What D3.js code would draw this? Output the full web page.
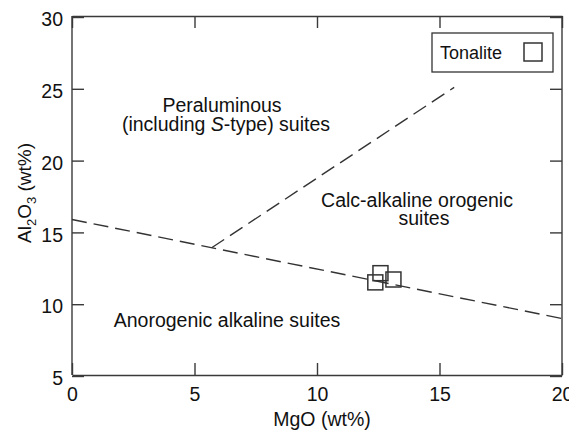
<!DOCTYPE html>
<html>
<head>
<meta charset="utf-8">
<script src="https://cdn.jsdelivr.net/npm/d3@7"></script>
<style>
  html, body { margin: 0; padding: 0; background: #fff; }
  svg text { font-family: "Liberation Sans", Arial, Helvetica, sans-serif; fill: #111; }
</style>
</head>
<body>
<svg id="chart" width="569" height="434"></svg>
<script>
// MgO vs Al2O3 discrimination diagram for granitoid suites
const xTicks = [0, 5, 10, 15, 20];
const yTicks = [5, 10, 15, 20, 25, 30];

// Field boundaries (dashed)
const lowerBoundaryX = [0, 20];
const lowerBoundaryY = [15.9, 9.0];
const upperBoundaryX = [5.7, 15.6];
const upperBoundaryY = [13.93, 25.1];

// Tonalite samples
const tonaliteMgO = [12.38, 12.59, 13.12];
const tonaliteAl2O3 = [11.52, 12.16, 11.72];

(function () {
  const svg = d3.select("#chart");
  const plotLeft = 72, plotRight = 562, plotTop = 16, plotBottom = 375;

  const x = d3.scaleLinear().domain([0, 20]).range([plotLeft, plotRight]);
  const y = d3.scaleLinear().domain([5, 30]).range([plotBottom + 1, plotTop + 1]);

  const axisColor = "#3a3a3a";
  const tickLen = 12;

  // Axes: ticks point inward on all four sides
  const gB = svg.append("g").attr("transform", `translate(0,${plotBottom})`)
    .call(d3.axisBottom(x).tickValues(xTicks).tickSizeInner(-tickLen).tickSizeOuter(0).tickPadding(9).tickFormat(d3.format("d")));
  const gT = svg.append("g").attr("transform", `translate(0,${plotTop})`)
    .call(d3.axisTop(x).tickValues(xTicks).tickSizeInner(-tickLen).tickSizeOuter(0).tickFormat(""));
  const gL = svg.append("g").attr("transform", `translate(${plotLeft},0)`)
    .call(d3.axisLeft(y).tickValues(yTicks).tickSizeInner(-tickLen).tickSizeOuter(0).tickPadding(9).tickFormat(d3.format("d")));
  const gR = svg.append("g").attr("transform", `translate(${plotRight},0)`)
    .call(d3.axisRight(y).tickValues(yTicks).tickSizeInner(-tickLen).tickSizeOuter(0).tickFormat(""));

  // Frame edges span the full plot box
  gL.select("path.domain").attr("d", `M0,${plotTop}V${plotBottom}`);
  gR.select("path.domain").attr("d", `M0,${plotTop}V${plotBottom}`);

  [gB, gT, gL, gR].forEach(g => {
    g.selectAll("path.domain").attr("stroke", axisColor).attr("stroke-width", 1.4);
    g.selectAll(".tick line").attr("stroke", axisColor).attr("stroke-width", 1.4);
    g.selectAll(".tick text").attr("font-size", 19.5).attr("fill", "#111")
      .style("font-family", '"Liberation Sans", Arial, sans-serif');
  });
  gB.selectAll(".tick text").attr("dy", "0.88em");
  gL.selectAll(".tick text").attr("dy", "0.45em");

  // Dashed field boundaries
  const line = d3.line().x(d => x(d[0])).y(d => y(d[1]));
  const lowerPts = lowerBoundaryX.map((v, i) => [v, lowerBoundaryY[i]]);
  const upperPts = upperBoundaryX.map((v, i) => [v, upperBoundaryY[i]]);
  [lowerPts, upperPts].forEach(pts => {
    svg.append("path").attr("d", line(pts))
      .attr("fill", "none").attr("stroke", "#333").attr("stroke-width", 1.4)
      .attr("stroke-dasharray", "15,7");
  });

  // Field labels
  const fieldLabels = [
    { text: "Peraluminous", x: 222, y: 112 },
    { text: null, x: 226, y: 131 },
    { text: "Calc-alkaline orogenic", x: 417, y: 207 },
    { text: "suites", x: 424, y: 225 },
    { text: "Anorogenic alkaline suites", x: 227, y: 327 }
  ];
  fieldLabels.forEach(l => {
    const t = svg.append("text").attr("x", l.x).attr("y", l.y)
      .attr("text-anchor", "middle").attr("font-size", 19.5);
    if (l.text) t.text(l.text);
    else {
      t.append("tspan").text("(including ");
      t.append("tspan").attr("font-style", "italic").text("S");
      t.append("tspan").text("-type) suites");
    }
  });

  // Sample markers
  const samples = tonaliteMgO.map((v, i) => [v, tonaliteAl2O3[i]]);
  const sq = 15;
  svg.append("g").selectAll("rect").data(samples).join("rect")
    .attr("x", d => x(d[0]) - sq / 2).attr("y", d => y(d[1]) - sq / 2)
    .attr("width", sq).attr("height", sq)
    .attr("fill", "none").attr("stroke", "#333").attr("stroke-width", 1.5);

  // Legend
  const legend = svg.append("g");
  legend.append("rect").attr("x", 432).attr("y", 33).attr("width", 121).attr("height", 39)
    .attr("fill", "#fff").attr("stroke", "#333").attr("stroke-width", 1.3);
  legend.append("text").attr("x", 440).attr("y", 59).attr("font-size", 18).text("Tonalite");
  legend.append("rect").attr("x", 524).attr("y", 43).attr("width", 18).attr("height", 18)
    .attr("fill", "none").attr("stroke", "#333").attr("stroke-width", 1.5);

  // Axis titles
  svg.append("text").attr("x", 322).attr("y", 426).attr("text-anchor", "middle")
    .attr("font-size", 19.5).text("MgO (wt%)");

  const yTitle = svg.append("text")
    .attr("transform", "translate(31,193) rotate(-90)")
    .attr("text-anchor", "middle").attr("font-size", 19);
  yTitle.append("tspan").text("Al");
  yTitle.append("tspan").attr("font-size", 13).attr("dy", 5).text("2");
  yTitle.append("tspan").attr("dy", -5).text("O");
  yTitle.append("tspan").attr("font-size", 13).attr("dy", 5).text("3");
  yTitle.append("tspan").attr("dy", -5).text(" (wt%)");
})();
</script>
</body>
</html>
